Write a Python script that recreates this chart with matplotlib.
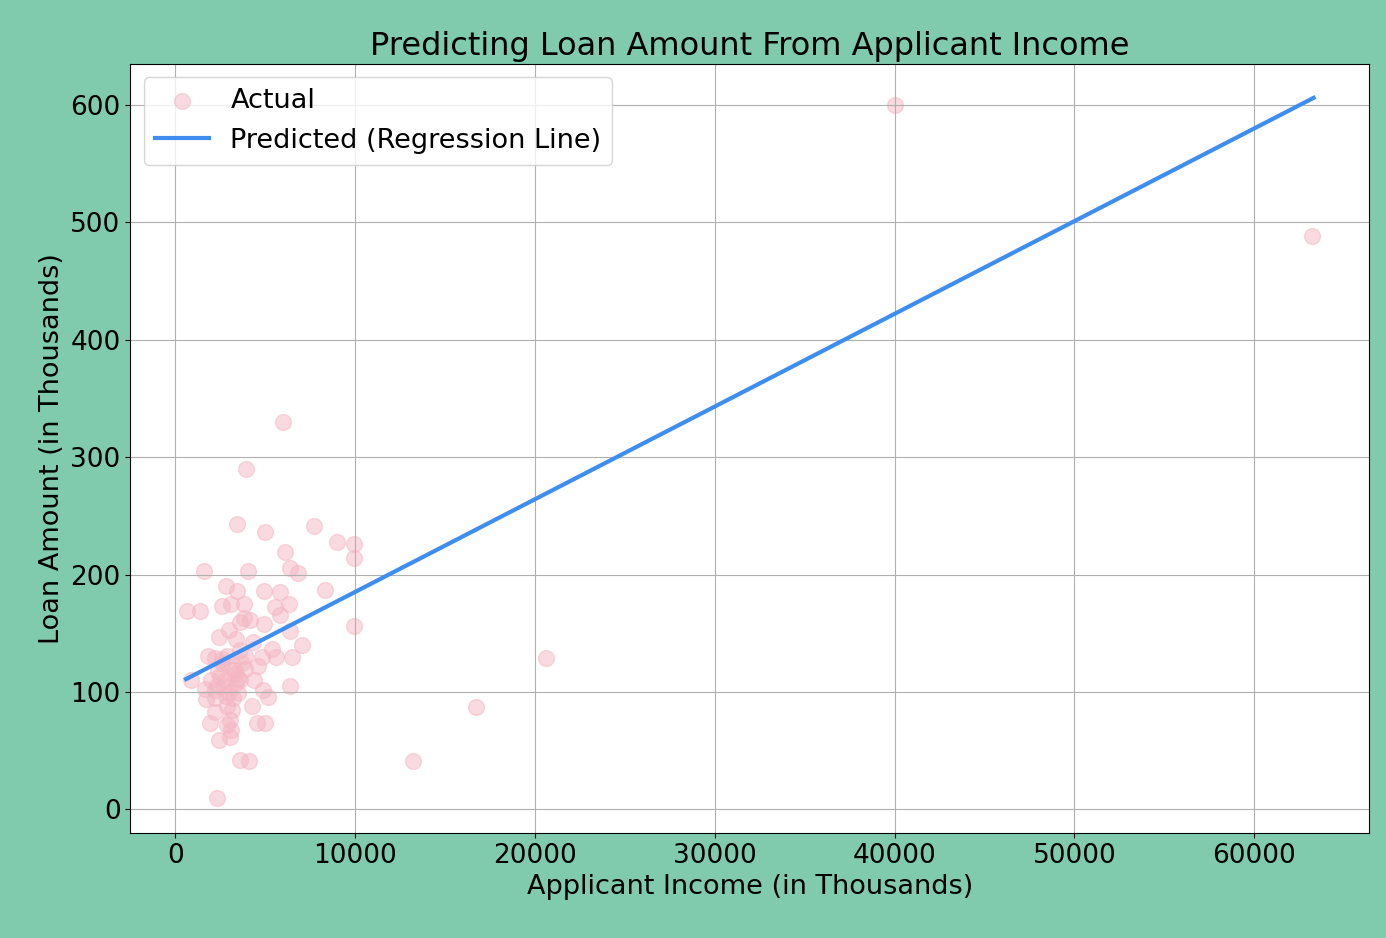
import matplotlib.pyplot as plt

income = [40000, 63200, 6000, 3950, 3450, 5000, 7700, 9000, 9950, 9950, 1600, 4050, 6100, 6400,
          6800, 8300, 9950, 650, 1350, 2800, 3450, 4950, 5800, 6300, 5550, 3100, 2600, 3800, 3800,
          4150, 4950, 5800, 2450, 3000, 6400, 7050, 1800, 2200, 2900, 4800, 5600, 6500, 3600, 4300,
          5400, 850, 1650, 2500, 3300, 3900, 4400, 4900, 6400, 1700, 2200, 2850, 3500, 5150, 2200,
          3150, 4250, 1950, 2900, 4550, 5000, 2450, 3050, 3600, 4100, 2300, 13200, 16700, 20600,
          2800, 3150, 2200, 3600, 3050, 3900, 2600, 3300, 2700, 3400, 3000, 3700, 2400, 3200,
          2900, 3500, 2000, 3100, 2600, 3400, 4600, 3600, 2300]
loan = [600, 488, 330, 290, 243, 236, 241, 228, 226, 214, 203, 203, 219, 206,
        201, 187, 156, 169, 169, 190, 186, 186, 185, 175, 172, 175, 173, 175, 163,
        161, 158, 166, 147, 153, 152, 140, 131, 129, 131, 130, 130, 130, 136, 143,
        137, 110, 103, 114, 119, 120, 110, 102, 105, 94, 95, 97, 99, 96, 83,
        85, 88, 74, 72, 74, 74, 59, 62, 42, 41, 10, 41, 87, 129,
        110, 123, 102, 110, 76, 131, 125, 115, 105, 108, 100, 125, 118, 95,
        88, 112, 110, 68, 128, 145, 122, 160, 105]

# regression line endpoints
line_x = [600, 63300]
line_y = [111, 606]

fig, ax = plt.subplots(figsize=(13.86, 9.38), dpi=100)
fig.patch.set_facecolor('#80cbad')
ax.scatter(income, loan, s=130, color='#f4b6c2', alpha=0.5, label='Actual')
ax.plot(line_x, line_y, color='#3d8ef0', linewidth=3, label='Predicted (Regression Line)')
ax.set_title('Predicting Loan Amount From Applicant Income', fontsize=23)
ax.set_xlabel('Applicant Income (in Thousands)', fontsize=19.5)
ax.set_ylabel('Loan Amount (in Thousands)', fontsize=19.5)
ax.tick_params(labelsize=19)
ax.set_xlim(-2500, 66400)
ax.set_ylim(-20, 635)
ax.grid(True)
ax.legend(loc='upper left', fontsize=19.5)
plt.subplots_adjust(left=0.094, right=0.988, top=0.932, bottom=0.112)
plt.savefig('out.png')
